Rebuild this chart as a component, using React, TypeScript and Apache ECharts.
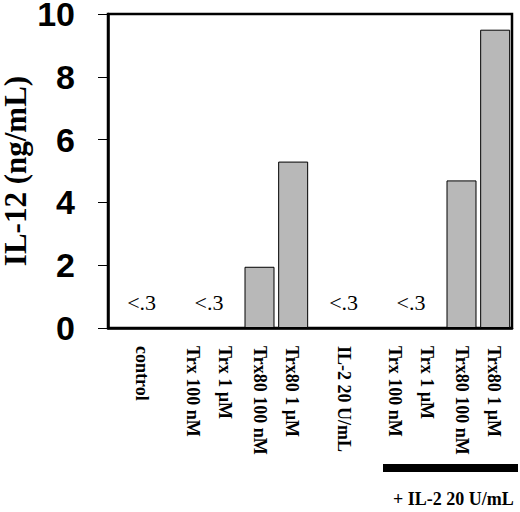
import { useEffect, useRef } from "react";
import * as echarts from "echarts";

// groups along the x axis (ticks sit between groups)
const groupLabels = [
  ["control"],
  ["Trx 100 nM", "Trx 1 µM"],
  ["Trx80 100 nM", "Trx80 1 µM"],
  ["IL-2 20 U/mL"],
  ["Trx 100 nM", "Trx 1 µM"],
  ["Trx80 100 nM", "Trx80 1 µM"],
];
// text shown for groups under detection limit
const belowDetection = ["<.3", "<.3", "", "<.3", "<.3", ""];

// two slots per group, bars drawn in slots
const slots = ["c1", "c2", "t1", "t2", "t80a", "t80b", "il2a", "il2b", "it1", "it2", "it80a", "it80b"];
const il12 = [null, null, null, null, 1.95, 5.3, null, null, null, null, 4.7, 9.5];

const yTicks = { min: 0, max: 10, interval: 2 };
const bracketText = "+ IL-2 20 U/mL";

export default function App() {
  const ref = useRef<HTMLDivElement>(null);

  useEffect(() => {
    if (!ref.current) return;
    const chart = echarts.init(ref.current, null, { renderer: "svg" });
    const serif = "'Liberation Serif', 'Times New Roman', serif";

    chart.setOption({
      animation: false,
      backgroundColor: "#fff",
      grid: {
        left: 108,
        right: 8,
        top: 14,
        bottom: 184,
        outerBoundsMode: "none",
        containLabel: false,
        show: true,
        borderColor: "#000",
        borderWidth: 2.5,
      },
      xAxis: [
        {
          type: "category",
          data: groupLabels.map((g) => g.join("|")),
          boundaryGap: true,
          axisLine: { lineStyle: { color: "#000", width: 2.5 } },
          axisTick: { length: 6, lineStyle: { color: "#000", width: 1 } },
          axisLabel: {
            interval: 0,
            rotate: -90,
            margin: 18,
            color: "#000",
            fontFamily: serif,
            fontWeight: "bold",
            fontSize: 18,
            lineHeight: 32,
            formatter: (v: string) => v.split("|").reverse().join("\n"),
          },
        },
        {
          type: "category",
          data: slots,
          show: false,
        },
      ],
      yAxis: {
        type: "value",
        min: yTicks.min,
        max: yTicks.max,
        interval: yTicks.interval,
        name: "IL-12 (ng/mL)",
        nameLocation: "middle",
        nameMoveOverlap: false,
        nameGap: 78,
        nameTextStyle: {
          color: "#000",
          fontFamily: serif,
          fontWeight: "bold",
          fontSize: 31,
          lineHeight: 30,
        },
        axisLine: { show: true, lineStyle: { color: "#000", width: 2.5 } },
        axisTick: { show: true, length: 10, lineStyle: { color: "#000", width: 1 } },
        splitLine: { show: false },
        axisLabel: {
          margin: 33,
          color: "#000",
          fontFamily: "'Liberation Sans', Arial, sans-serif",
          fontWeight: "bold",
          fontSize: 34,
          lineHeight: 28,
        },
      },
      series: [
        {
          type: "bar",
          xAxisIndex: 1,
          data: il12,
          barWidth: 30,
          itemStyle: { color: "#b8b8b8", borderColor: "#000", borderWidth: 1 },
        },
        {
          type: "scatter",
          xAxisIndex: 0,
          symbolSize: 0,
          itemStyle: { opacity: 1, color: "#000" },
          data: belowDetection.map((t) => (t ? 0 : null)),
          label: {
            show: true,
            position: "top",
            distance: 15,
            color: "#000",
            fontFamily: serif,
            fontSize: 22,
            formatter: (p: any) => belowDetection[p.dataIndex],
          },
        },
      ],
      graphic: [
        { type: "rect", shape: { x: 383, y: 464, width: 135, height: 8 }, style: { fill: "#000" } },
        {
          type: "text",
          x: 393,
          y: 490,
          style: {
            text: bracketText,
            fill: "#000",
            font: `bold 18px ${serif}`,
            textVerticalAlign: "top",
          },
        },
      ],
    });

    return () => chart.dispose();
  }, []);

  return (
    <div style={{ position: "fixed", left: 0, top: 0, width: 520, height: 512, background: "#fff" }}>
      <div ref={ref} style={{ width: 520, height: 512 }} />
    </div>
  );
}
